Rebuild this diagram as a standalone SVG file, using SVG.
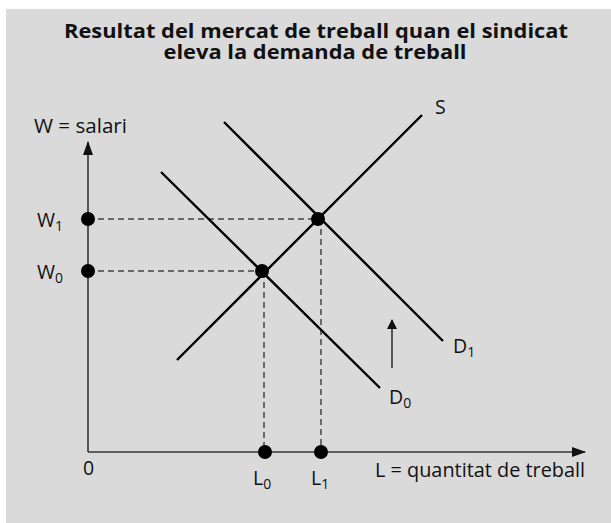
<svg xmlns="http://www.w3.org/2000/svg" width="611" height="523" viewBox="0 0 611 523">
<style>
.t{font-family:"Open Sans","Noto Sans","Liberation Sans",sans-serif;fill:#111}
.title{font-size:19px;font-weight:bold;text-anchor:middle}
.lab{font-size:19.5px}
.sub{font-size:14px}
.curve{stroke:#000;stroke-width:2.4;fill:none}
.axis{stroke:#333;stroke-width:1.6;fill:none}
.dash{stroke:#444;stroke-width:1.5;stroke-dasharray:6 4;fill:none}
.dot{fill:#000}
</style>
<defs>
<marker id="ah" markerWidth="10" markerHeight="10" refX="9" refY="5" orient="auto" markerUnits="userSpaceOnUse">
<path d="M0,0 L10,5 L0,10 Z" fill="#111"/>
</marker>
<marker id="ah2" markerWidth="14" markerHeight="10" refX="13" refY="5" orient="auto" markerUnits="userSpaceOnUse">
<path d="M0,0 L14,5 L0,10 Z" fill="#111"/>
</marker>
</defs>
<rect x="0" y="0" width="611" height="523" fill="#ffffff"/>
<rect x="6" y="9" width="605" height="514" fill="#dadada"/>
<g id="title">
<text class="t title" x="316" y="38" textLength="504" lengthAdjust="spacingAndGlyphs">Resultat del mercat de treball quan el sindicat</text>
<text class="t title" x="315" y="59" textLength="303" lengthAdjust="spacingAndGlyphs">eleva la demanda de treball</text>
</g>
<g id="axes">
<line class="axis" x1="88" y1="452" x2="88" y2="142" marker-end="url(#ah2)"/>
<line class="axis" x1="88" y1="452" x2="585" y2="452" marker-end="url(#ah2)"/>
<text class="t lab" x="34" y="133" textLength="93" lengthAdjust="spacingAndGlyphs">W = salari</text>
<text class="t lab" x="83" y="475">0</text>
<text class="t lab" x="375" y="477" textLength="210" lengthAdjust="spacingAndGlyphs">L = quantitat de treball</text>
</g>
<g id="connectors">
<line class="dash" x1="88" y1="219" x2="318" y2="219"/>
<line class="dash" x1="88" y1="271" x2="262" y2="271"/>
<line class="dash" x1="264" y1="272" x2="264" y2="452"/>
<line class="dash" x1="321" y1="219" x2="321" y2="452"/>
<line class="axis" x1="392" y1="368" x2="392" y2="320" marker-end="url(#ah)"/>
</g>
<g id="S">
<line class="curve" x1="177" y1="360" x2="422" y2="115"/>
<text class="t lab" x="435" y="114">S</text>
</g>
<g id="D0">
<line class="curve" x1="161" y1="172" x2="380" y2="388"/>
<text class="t lab" x="389" y="404">D<tspan class="sub" dy="4">0</tspan></text>
</g>
<g id="D1">
<line class="curve" x1="224" y1="122" x2="443" y2="341"/>
<text class="t lab" x="453" y="353">D<tspan class="sub" dy="4">1</tspan></text>
</g>
<g id="E0"><circle class="dot" cx="262" cy="271" r="7"/></g>
<g id="E1"><circle class="dot" cx="318" cy="219" r="7"/></g>
<g id="W1"><circle class="dot" cx="88" cy="219" r="7"/><text class="t lab" x="37" y="227">W<tspan class="sub" dy="4">1</tspan></text></g>
<g id="W0"><circle class="dot" cx="88" cy="271" r="7"/><text class="t lab" x="37" y="279">W<tspan class="sub" dy="4">0</tspan></text></g>
<g id="L0"><circle class="dot" cx="265" cy="452" r="7"/><text class="t lab" x="253" y="485">L<tspan class="sub" dy="4">0</tspan></text></g>
<g id="L1"><circle class="dot" cx="321" cy="452" r="7"/><text class="t lab" x="311" y="485">L<tspan class="sub" dy="4">1</tspan></text></g>
</svg>
